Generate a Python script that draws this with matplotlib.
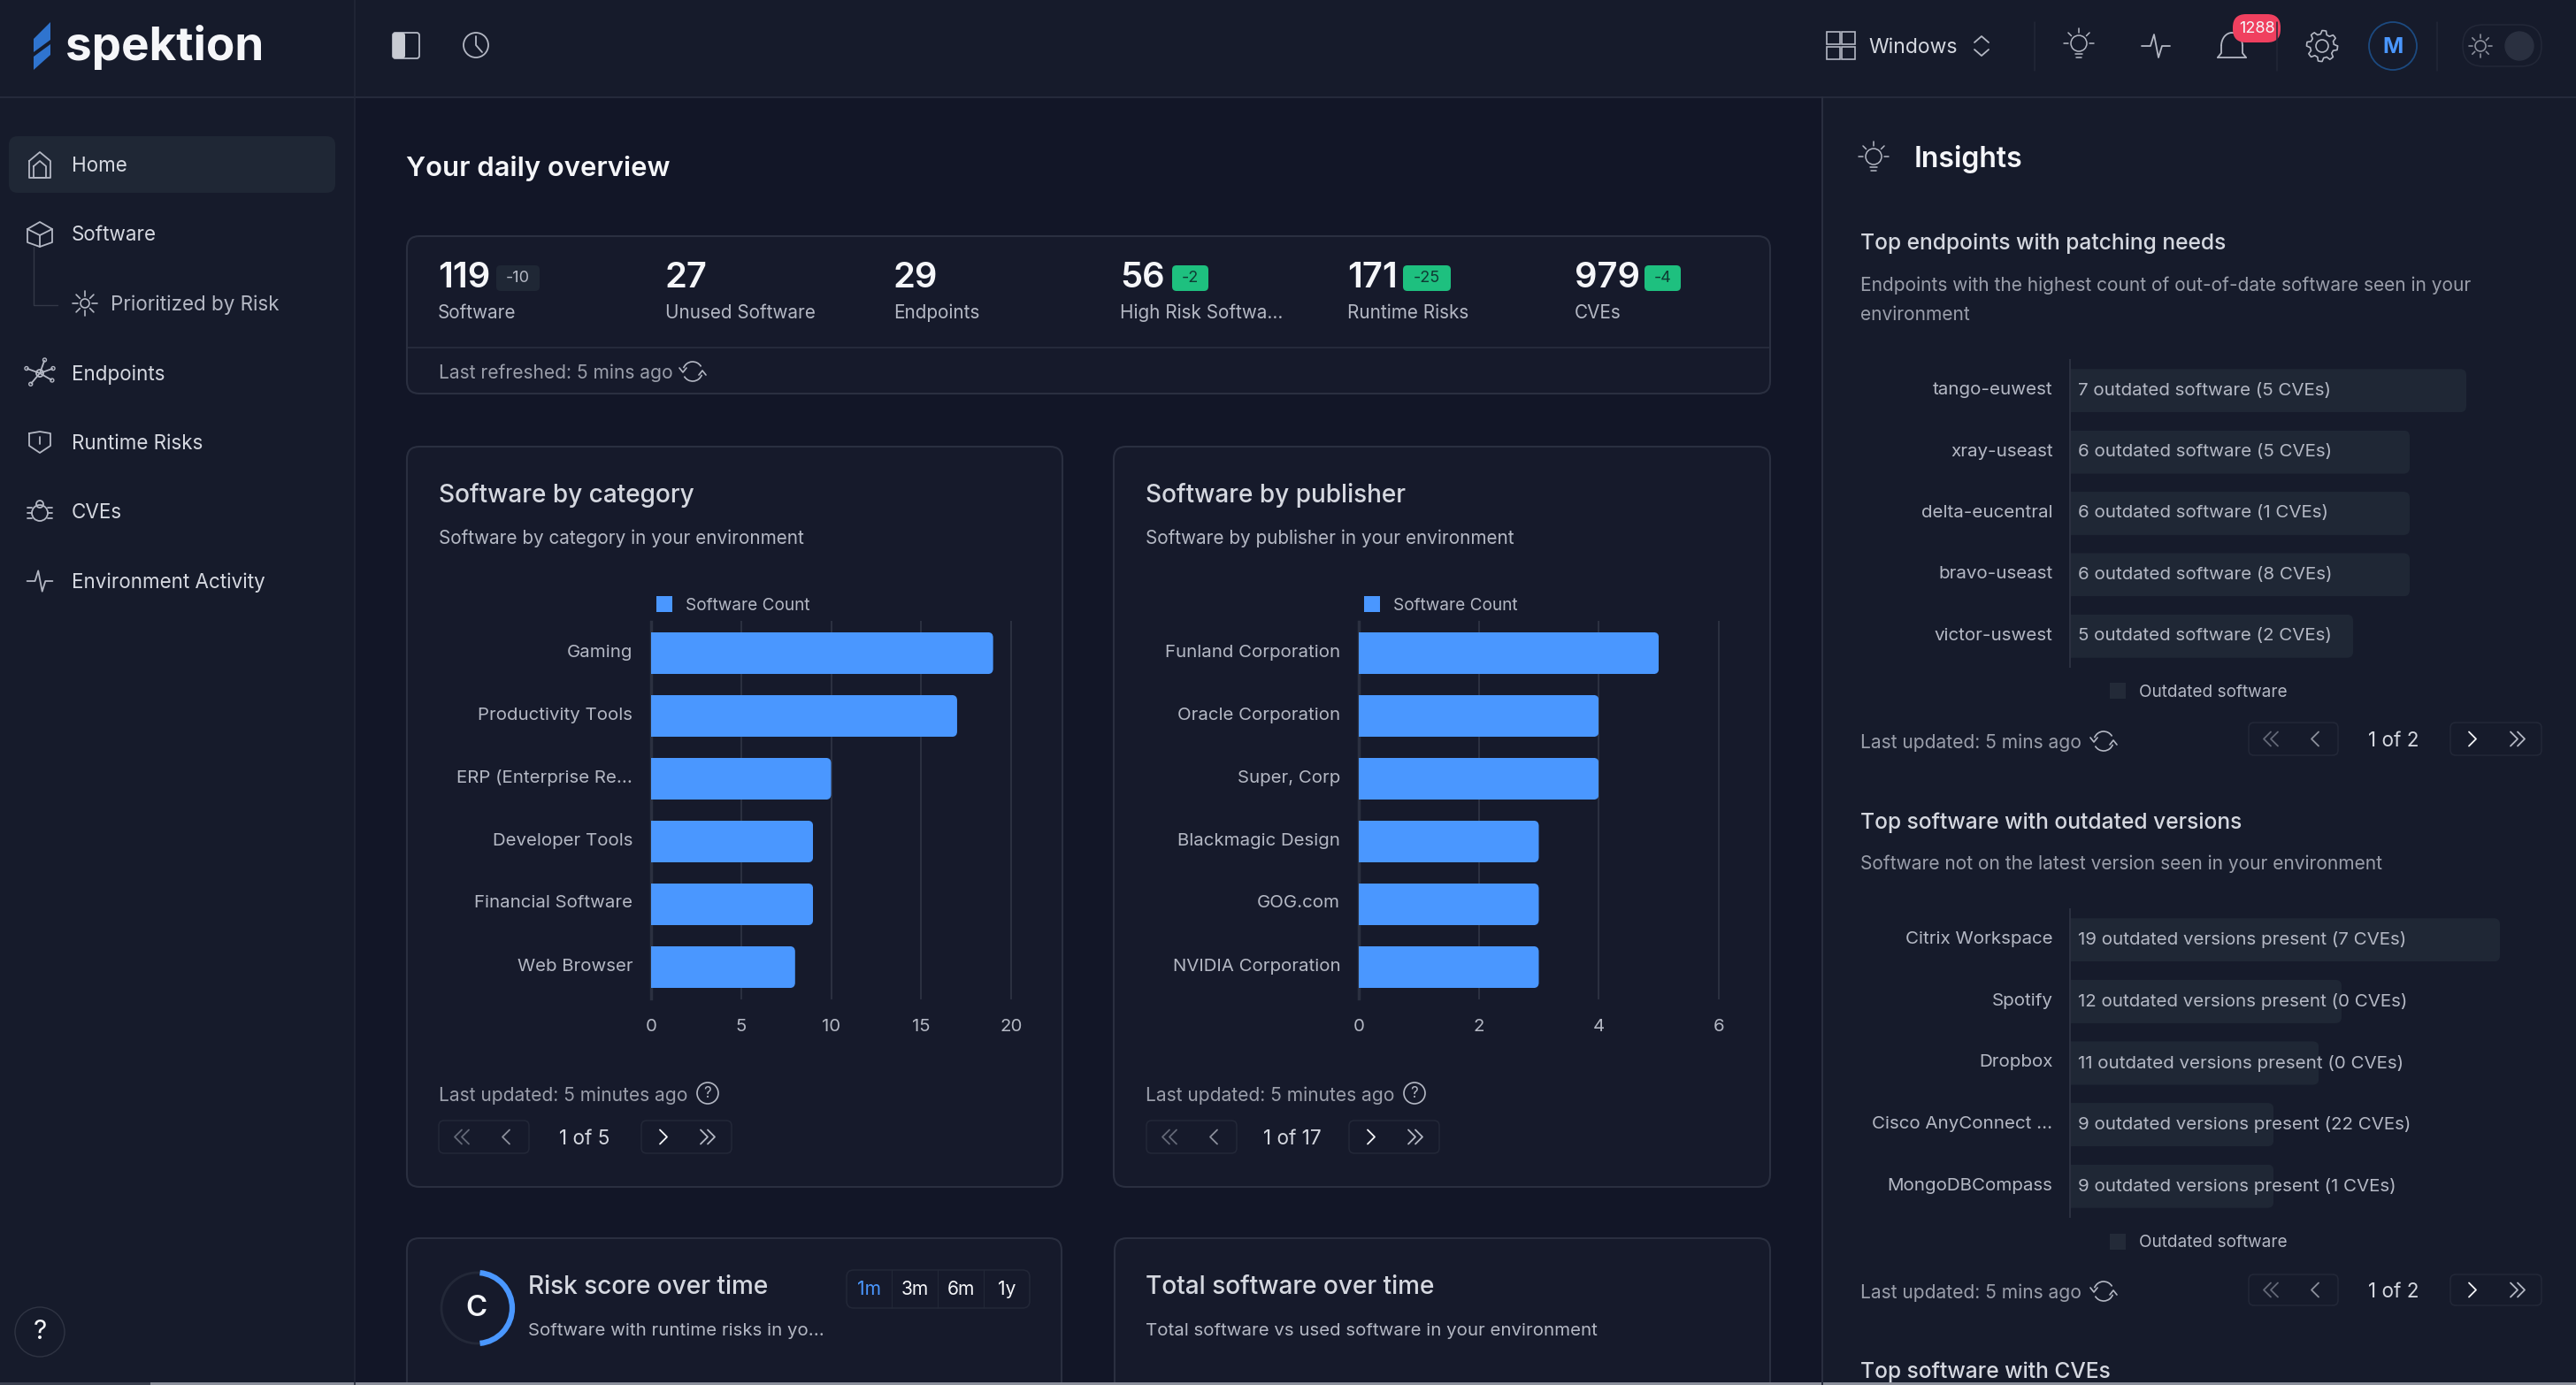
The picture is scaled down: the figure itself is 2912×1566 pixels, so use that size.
import numpy as np
import matplotlib
matplotlib.use("Agg")
import matplotlib.pyplot as plt
from matplotlib.patches import Arc, Circle, FancyBboxPatch, Polygon, Rectangle
from matplotlib.transforms import ScaledTranslation

W, H = 2912, 1566

BG_MAIN = "#121627"
BG_SIDE = "#161b2b"
BG_CARD = "#161a2b"
BORDER = "#2a2f40"
BLUE = "#4a97ff"
GREEN = "#1ec07f"
TEXT_WHITE = "#f5f6f9"
TEXT_TITLE = "#d5d8e0"
TEXT_BODY = "#b4b8c4"
TEXT_DIM = "#9a9eaa"
BAR_DARK = "#1f2735"

plt.rcParams["font.family"] = ["Inter", "DejaVu Sans"]

# sidebar
nav_labels = ["Home", "Software", "Endpoints", "Runtime Risks", "CVEs", "Environment Activity"]

# stats row
stat_values = ["119", "27", "29", "56", "171", "979"]
stat_labels = ["Software", "Unused Software", "Endpoints", "High Risk Softwa...", "Runtime Risks", "CVEs"]
stat_deltas = ["-10", None, None, "-2", "-25", "-4"]

# bar charts
category_names = ["Gaming", "Productivity Tools", "ERP (Enterprise Re...", "Developer Tools",
                  "Financial Software", "Web Browser"]
category_counts = [19, 17, 10, 9, 9, 8]
category_ticks = [0, 5, 10, 15, 20]

publisher_names = ["Funland Corporation", "Oracle Corporation", "Super, Corp", "Blackmagic Design",
                   "GOG.com", "NVIDIA Corporation"]
publisher_counts = [5, 4, 4, 3, 3, 3]
publisher_ticks = [0, 2, 4, 6]

endpoint_names = ["tango-euwest", "xray-useast", "delta-eucentral", "bravo-useast", "victor-uswest"]
endpoint_outdated = [7, 6, 6, 6, 5]
endpoint_cves = [5, 5, 1, 8, 2]

outdated_names = ["Citrix Workspace", "Spotify", "Dropbox", "Cisco AnyConnect ...", "MongoDBCompass"]
outdated_versions = [19, 12, 11, 9, 9]
outdated_cves = [7, 0, 0, 22, 1]

fig = plt.figure(figsize=(W / 100, H / 100), dpi=100, facecolor=BG_MAIN)
ui = fig.add_axes([0, 0, 1, 1], zorder=0)
ui.set_xlim(0, W)
ui.set_ylim(H, 0)
ui.axis("off")


def txt(x, y, s, px=20.7, color=TEXT_BODY, ha="left", weight="normal"):
    ui.text(x, y + 3.5, s, fontsize=px * 0.72, color=color, ha=ha, va="center", weight=weight)


def box(x0, y0, x1, y1, r=8, fc="none", ec="none", lw=1.4):
    ui.add_patch(FancyBboxPatch((x0, y0), x1 - x0, y1 - y0, boxstyle=f"round,pad=0,rounding_size={r}",
                                fc=fc, ec=ec, lw=lw))


def line(xs, ys, color=TEXT_BODY, lw=1.3):
    ui.plot(xs, ys, color=color, lw=lw, solid_capstyle="round", solid_joinstyle="round")


def ring(x, y, r, color=TEXT_BODY, lw=1.3, fc="none"):
    ui.add_patch(Circle((x, y), r, fc=fc, ec=color, lw=lw))


def sun(x, y, r=8, ray=6, color=TEXT_BODY, lw=1.2):
    ring(x, y, r, color, lw)
    for a in np.deg2rad(np.arange(0, 360, 45)):
        line([x + (r + 3) * np.cos(a), x + (r + 3 + ray) * np.cos(a)],
             [y + (r + 3) * np.sin(a), y + (r + 3 + ray) * np.sin(a)], color, lw)


def bulb(x, y, color=TEXT_BODY):
    ring(x, y - 1, 9, color, 1.1)
    line([x - 4, x + 4], [y + 11, y + 11], color, 1.1)
    line([x - 3, x + 3], [y + 15, y + 15], color, 1.1)
    for a in np.deg2rad([180, 225, 270, 315, 360]):
        line([x + 12 * np.cos(a), x + 17 * np.cos(a)], [y - 1 + 12 * np.sin(a), y - 1 + 17 * np.sin(a)], color, 1.1)


def pulse(x, y, s=1.0, color=TEXT_BODY):
    line(x + np.array([-16, -6, -2, 3, 7, 16]) * s, y + np.array([0, 0, -13, 13, 0, 0]) * s, color)


def gear(x, y, color=TEXT_BODY):
    angles = np.deg2rad(np.arange(0, 360, 7.5))
    radii = np.where((np.arange(len(angles)) % 6) < 3, 17.5, 13.5)
    line(x + radii * np.cos(angles), y + radii * np.sin(angles), color, 1.2)
    line([x + radii[0] * np.cos(angles[0]), x + radii[-1] * np.cos(angles[-1])],
         [y + radii[0] * np.sin(angles[0]), y + radii[-1] * np.sin(angles[-1])], color, 1.2)
    ring(x, y, 7, color, 1.2)


def chevrons(x, y, n=1, d=1, color=TEXT_DIM, size=8):
    for i in range(n):
        cx = x + (i - (n - 1) / 2) * 8
        line([cx - d * size / 2, cx + d * size / 2, cx - d * size / 2], [y - size, y, y + size], color, 1.3)


def pager(y0, y1, x0, x1, x2, x3, label, label_x, first, prev, nxt, last):
    y = (y0 + y1) / 2
    box(x0, y0, x1, y1, 6, ec="#232838", lw=1.1)
    box(x2, y0, x3, y1, 6, ec="#232838", lw=1.1)
    chevrons(first, y, 2, -1, "#636877")
    chevrons(prev, y, 1, -1, "#8c909c")
    chevrons(nxt, y, 1, 1, TEXT_WHITE)
    chevrons(last, y, 2, 1, "#b4b8c4")
    txt(label_x, y - 1, label, 22.5, TEXT_TITLE, ha="center")


def refresh(x, y):
    ui.add_patch(Arc((x, y), 22, 22, theta1=200, theta2=330, color=TEXT_BODY, lw=1.2))
    ui.add_patch(Arc((x, y), 22, 22, theta1=20, theta2=150, color=TEXT_BODY, lw=1.2))
    line([x + 7, x + 11, x + 15], [y + 4, y - 1, y + 4], TEXT_BODY, 1.2)
    line([x - 15, x - 11, x - 7], [y - 4, y + 1, y - 4], TEXT_BODY, 1.2)


def help_mark(x, y):
    ring(x, y, 12, TEXT_BODY, 1.2)
    txt(x, y - 3, "?", 17, TEXT_BODY, ha="center")


def px_axes(x0, x1, y0, y1):
    return fig.add_axes([x0 / W, 1 - y1 / H, (x1 - x0) / W, (y1 - y0) / H], zorder=2, facecolor="none")


def lift_labels(labels, px):
    for label in labels:
        label.set_transform(label.get_transform() + ScaledTranslation(0, px / 100, fig.dpi_scale_trans))


def rounded_bars(ax, bars, r_px):
    # square on the axis side, rounded at the value end
    pos = ax.get_position()
    x_span = ax.get_xlim()[1] - ax.get_xlim()[0]
    y_span = abs(ax.get_ylim()[1] - ax.get_ylim()[0])
    x_per_px = x_span / (pos.width * W)
    y_per_px = y_span / (pos.height * H)
    for rect in bars:
        left = -r_px * 3 * x_per_px
        clip = FancyBboxPatch((left, rect.get_y()), rect.get_width() - left, rect.get_height(),
                              boxstyle=f"round,pad=0,rounding_size={r_px * x_per_px}",
                              mutation_aspect=y_per_px / x_per_px, transform=ax.transData)
        rect.set_clip_path(clip)


def count_chart(x0, x1, names, counts, ticks):
    ax = px_axes(x0, x1, 703, 1129)
    ax.set_xlim(ticks[0], ticks[-1])
    ax.set_ylim(len(names) - 0.5, -0.5)
    bars = ax.barh(range(len(names)), counts, height=0.665, color=BLUE, zorder=3)
    rounded_bars(ax, bars, 6)
    ax.set_yticks(range(len(names)), names)
    ax.set_xticks(ticks)
    ax.tick_params(axis="both", length=0, labelsize=14.7, labelcolor=TEXT_BODY)
    ax.tick_params(axis="y", pad=15)
    ax.tick_params(axis="x", pad=16.5)
    lift_labels(ax.get_yticklabels(), 3)
    ax.grid(axis="x", color="#2b3040", lw=1.5, zorder=1, clip_on=False)
    for name, spine in ax.spines.items():
        spine.set_visible(name == "left")
    ax.spines["left"].set_color("#2b3040")
    ax.spines["left"].set_linewidth(2.5)


def outdated_chart(y0, y1, names, values, labels, xmax):
    x0 = 2340
    ax = px_axes(x0, x0 + xmax, y0, y1)
    ax.set_xlim(0, max(values))
    ax.set_ylim(len(names) - 0.5, -0.5)
    bars = ax.barh(range(len(names)), values, height=0.705, color=BAR_DARK, zorder=1)
    rounded_bars(ax, bars, 7)
    ax.set_yticks(range(len(names)), names)
    ax.set_xticks([])
    ax.tick_params(axis="y", length=0, pad=14, labelsize=14.8, labelcolor=TEXT_BODY)
    lift_labels(ax.get_yticklabels(), 2.5)
    for name, spine in ax.spines.items():
        spine.set_visible(name == "left")
    ax.spines["left"].set_color("#2b3040")
    ax.spines["left"].set_linewidth(1.5)
    for i, label in enumerate(labels):
        ax.annotate(label, (0, i), xytext=(6.5, 0), textcoords="offset points", fontsize=14.8,
                    color=TEXT_BODY, va="center", zorder=4, annotation_clip=False)


# background regions
ui.add_patch(Rectangle((0, 0), 401, H, fc=BG_SIDE, ec="none"))
ui.add_patch(Rectangle((0, 0), W, 110, fc=BG_SIDE, ec="none"))
ui.add_patch(Rectangle((2060, 110), W - 2060, H, fc=BG_SIDE, ec="none"))
line([0, W], [110, 110], BORDER, 1.1)
line([401, 401], [0, H], "#232838", 1.1)
line([2060, 2060], [110, H], BORDER, 1.4)

# logo
ui.add_patch(Polygon([[38, 44], [57, 25], [57, 45], [38, 59]], fc="#2f74cf", ec="none"))
ui.add_patch(Polygon([[38, 64], [57, 50], [57, 62], [38, 79]], fc="#2f74cf", ec="none"))
txt(74, 50, "spektion", 53, TEXT_WHITE, weight="bold")

# top bar, left
box(444, 37, 474, 66, 3, ec="#b4b8c4", lw=1.3)
box(444, 37, 458, 66, 3, fc="#c8cbd3")
ring(538, 51, 14)
line([538, 538, 545], [41, 51, 59], TEXT_BODY)

# top bar, right
for gx in (2065, 2082):
    for gy in (36, 53):
        ui.add_patch(Rectangle((gx, gy), 15, 14, fc="none", ec=TEXT_BODY, lw=1.2))
txt(2112, 50, "Windows", 23, TEXT_TITLE)
line([2232, 2240, 2248], [48, 41, 48], TEXT_BODY)
line([2232, 2240, 2248], [56, 63, 56], TEXT_BODY)
for dx in (2300, 2574, 2755):
    line([dx, dx], [25, 80], "#232838", 1.1)
bulb(2350, 50)
pulse(2437, 52)
ui.add_patch(Arc((2523, 52), 24, 30, theta1=180, theta2=360, color=TEXT_BODY, lw=1.3))
line([2507, 2511, 2511], [65, 60, 52], TEXT_BODY)
line([2539, 2535, 2535], [65, 60, 52], TEXT_BODY)
line([2507, 2539], [65, 65], TEXT_BODY)
box(2524, 16, 2578, 48, 15, fc="#f0405f")
txt(2551, 29, "1288", 18, TEXT_WHITE, ha="center")
gear(2625, 52)
ring(2705, 52, 27, "#1c4a80", 1.3)
txt(2705, 50, "M", 25, BLUE, ha="center", weight="bold")
box(2784, 28, 2873, 75, 23, ec="#232838", lw=1.1)
sun(2804, 52, 6, 4, "#8c909c")
ring(2848, 52, 16, "#2a3040", 1, "#2a3040")

# sidebar
box(10, 154, 379, 218, 10, fc="#1f2735")
nav_y = [185, 263, 420, 498, 576, 655]
for label, y in zip(nav_labels, nav_y):
    txt(81, y, label, 22.4, TEXT_TITLE)
txt(125, 341, "Prioritized by Risk", 22.4, TEXT_BODY)
line([38, 38, 65], [279, 345, 345], "#333847", 1)
sun(96, 343, 5, 6)
# home
line([33, 45, 57, 57, 33, 33], [182, 172, 182, 201, 201, 182], TEXT_BODY)
line([38, 45, 52, 52, 38, 38], [188, 182, 188, 201, 201, 188], TEXT_BODY)
# cube
line([31, 45, 59, 59, 45, 31, 31], [259, 251, 259, 274, 279, 274, 259], TEXT_BODY)
line([31, 45, 59], [259, 266, 259], TEXT_BODY)
line([45, 45], [266, 279], TEXT_BODY)
# endpoints
for a in np.deg2rad([30, 130, 200, 290, 340]):
    line([45, 45 + 15 * np.cos(a)], [422, 422 + 15 * np.sin(a)], TEXT_BODY)
    ring(45 + 16 * np.cos(a), 422 + 16 * np.sin(a), 2, TEXT_BODY, 1)
ring(45, 422, 4)
# shield
line([33, 45, 57, 57, 45, 33, 33], [490, 488, 490, 504, 512, 504, 490], TEXT_BODY)
line([45, 45], [494, 502], TEXT_BODY)
# bug
ring(45, 580, 9)
ring(45, 570, 4)
for dy in (-6, 0, 6):
    line([31, 36], [580 + dy, 580 + dy], TEXT_BODY)
    line([54, 59], [580 + dy, 580 + dy], TEXT_BODY)
pulse(45, 657, 0.9)
# help button
ring(45, 1506, 28, "#2f3443", 1)
txt(45, 1503, "?", 30, TEXT_WHITE, ha="center")

# overview card
txt(459, 187, "Your daily overview", 31, TEXT_WHITE, weight="semibold")
box(460, 267, 2001, 445, 14, fc=BG_CARD, ec=BORDER, lw=1.5)
line([460, 2001], [393, 393], BORDER, 1.1)
stat_x = [495, 752, 1010, 1266, 1523, 1780]
chip_x = [(561, 610), None, None, (1325, 1366), (1586, 1640), (1859, 1900)]
for x, value, label, delta, chip in zip(stat_x, stat_values, stat_labels, stat_deltas, chip_x):
    txt(x, 311, value, 40, TEXT_WHITE, weight="semibold")
    txt(x, 350, label, 20.7, TEXT_BODY)
    if delta:
        first = delta == "-10"
        box(chip[0], 300, chip[1], 329, 5, fc="#1f2735" if first else GREEN)
        txt(sum(chip) / 2, 311, delta, 18, TEXT_BODY if first else "#0f3a33", ha="center")
txt(496, 418, "Last refreshed: 5 mins ago", 21, TEXT_DIM)
refresh(783, 420)

# bar chart cards
for x0, x1, title, sub, legend_x, pager_x, label in [
    (460, 1201, "Software by category", "Software by category in your environment", 742, 496, "1 of 5"),
    (1259, 2001, "Software by publisher", "Software by publisher in your environment", 1542, 1296, "1 of 17"),
]:
    box(x0, 505, x1, 1342, 14, fc=BG_CARD, ec=BORDER, lw=1.5)
    txt(x0 + 36, 556, title, 28, TEXT_TITLE, weight="medium")
    txt(x0 + 36, 605, sub, 20.7, TEXT_BODY)
    ui.add_patch(Rectangle((legend_x, 674), 18, 18, fc=BLUE, ec="none"))
    txt(legend_x + 33, 681, "Software Count", 19, TEXT_BODY)
    txt(x0 + 36, 1235, "Last updated: 5 minutes ago", 21, TEXT_DIM)
    help_mark(x0 + 340, 1236)
    pager(1267, 1304, pager_x, pager_x + 102, pager_x + 229, pager_x + 331, label, pager_x + 165,
          pager_x + 26, pager_x + 76, pager_x + 254, pager_x + 304)
count_chart(736, 1143, category_names, category_counts, category_ticks)
count_chart(1536, 1943, publisher_names, publisher_counts, publisher_ticks)

# lower cards, cut off by the window
box(460, 1400, 1200, 1620, 14, fc=BG_CARD, ec=BORDER, lw=1.5)
box(1260, 1400, 2001, 1620, 14, fc=BG_CARD, ec=BORDER, lw=1.5)
ring(539, 1479, 40, "#232838", 2)
ui.add_patch(Arc((539, 1479), 80, 80, theta1=-85, theta2=85, color=BLUE, lw=4.5))
txt(539, 1476, "C", 33, TEXT_WHITE, ha="center", weight="semibold")
txt(597, 1452, "Risk score over time", 28, TEXT_TITLE, weight="medium")
txt(597, 1501, "Software with runtime risks in yo...", 20.4, TEXT_BODY)
box(957, 1436, 1164, 1479, 8, ec="#232838", lw=1.1)
for x, label, col in zip([982, 1034, 1086, 1138], ["1m", "3m", "6m", "1y"],
                         [BLUE, TEXT_WHITE, TEXT_WHITE, TEXT_WHITE]):
    txt(x, 1455, label, 21, col, ha="center")
for x in (1008, 1060, 1112):
    line([x, x], [1436, 1479], "#232838", 0.8)
txt(1295, 1452, "Total software over time", 28, TEXT_TITLE, weight="medium")
txt(1295, 1501, "Total software vs used software in your environment", 20.4, TEXT_BODY)

# insights panel
bulb(2118, 178)
txt(2164, 176, "Insights", 32, TEXT_WHITE, weight="semibold")
txt(2103, 272, "Top endpoints with patching needs", 24.6, TEXT_TITLE, weight="medium")
txt(2103, 319, "Endpoints with the highest count of out-of-date software seen in your", 20.9, TEXT_DIM)
txt(2103, 352, "environment", 20.9, TEXT_DIM)
txt(2103, 927, "Top software with outdated versions", 24.6, TEXT_TITLE, weight="medium")
txt(2103, 973, "Software not on the latest version seen in your environment", 20.9, TEXT_DIM)
txt(2103, 1548, "Top software with CVEs", 24.6, TEXT_TITLE, weight="medium")

endpoint_labels = [f"{n} outdated software ({c} CVEs)" for n, c in zip(endpoint_outdated, endpoint_cves)]
outdated_labels = [f"{n} outdated versions present ({c} CVEs)" for n, c in zip(outdated_versions, outdated_cves)]
outdated_chart(407, 754, endpoint_names, endpoint_outdated, endpoint_labels, 448)
outdated_chart(1028, 1376, outdated_names, outdated_versions, outdated_labels, 486)

for y_leg, y_upd, y0, y1 in [(781, 838, 817, 854), (1404, 1460, 1441, 1476)]:
    ui.add_patch(Rectangle((2385, y_leg - 9), 18, 18, fc="#232a38", ec="none"))
    txt(2418, y_leg - 2, "Outdated software", 19, TEXT_BODY)
    txt(2103, y_upd - 2, "Last updated: 5 mins ago", 21, TEXT_DIM)
    refresh(2378, y_upd)
    pager(y0, y1, 2542, 2643, 2770, 2873, "1 of 2", 2706, 2567, 2617, 2795, 2846)

# window edge
ui.add_patch(Rectangle((0, 1563), 170, 3, fc="#3a3f4e", ec="none"))
ui.add_patch(Rectangle((170, 1563), W - 170, 3, fc="#8b8f9b", ec="none"))

fig.savefig("out.png", dpi=100, facecolor=BG_MAIN)
